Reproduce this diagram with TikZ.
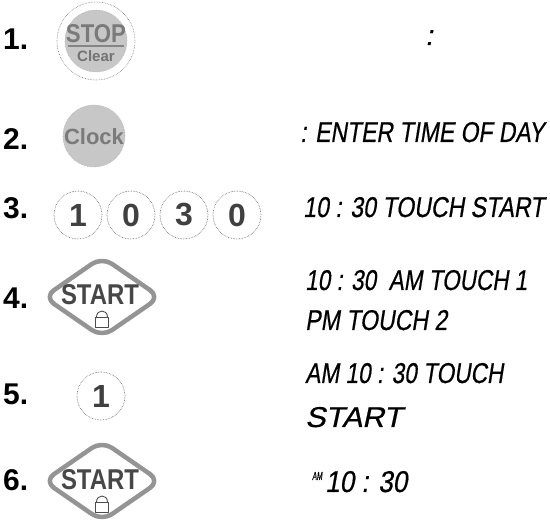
\documentclass[tikz,border=0pt]{standalone}
\usepackage{fontspec}
\setmainfont{Liberation Sans}
\newfontfamily\lcdfont[FakeSlant=0.2,FakeBold=0.6]{Liberation Sans}
\tikzset{
  steplabel/.style={anchor=west, inner sep=0pt, font=\fontsize{30}{32}\selectfont\bfseries},
  lcd/.style={anchor=base west, inner sep=0pt, font=\lcdfont\fontsize{28}{30}\selectfont},
  digitkey/.style={circle, inner sep=0pt, minimum size=48pt, draw=black!65, densely dotted, line width=0.6pt,
     text=black!75, font=\fontsize{32}{34}\selectfont\bfseries},
  outerring/.style={circle, inner sep=0pt, minimum size=78pt, draw=black!55, densely dotted, line width=0.6pt},
  graydisk/.style={circle, inner sep=0pt, minimum size=62pt, fill=black!22, draw=black!30, densely dotted, line width=0.6pt},
  startkey/.style={draw=black!42, line width=4.5pt, rounded corners=12pt, line join=round},
  starttext/.style={inner sep=0pt, text=black!72, font=\fontsize{24}{26}\selectfont\bfseries},
  lockline/.style={draw=black!70, line width=0.9pt, line join=round}
}
\newcommand\lcdbox[3]{\resizebox{#1pt}{#2pt}{#3}}
\begin{document}
\begin{tikzpicture}[x=1pt,y=-1pt]
\useasboundingbox (0,0) rectangle (550,524);

% step labels
\node[steplabel] (s1) at (3,39) {1.};
\node[steplabel] (s2) at (3,139) {2.};
\node[steplabel] (s3) at (3,208) {3.};
\node[steplabel] (s4) at (3,298) {4.};
\node[steplabel] (s5) at (3,394) {5.};
\node[steplabel] (s6) at (3,480) {6.};

% 1. STOP / Clear
\node[outerring] (stopring) at (96,41) {};
\node[graydisk] (stopdisk) at (96,41) {};
\node[inner sep=0pt, text=black!52] (stoptxt) at (96,34) {\resizebox{60pt}{18pt}{\bfseries STOP}};
\draw[black!48, line width=1.2pt] (68,46) -- (124,46);
\node[inner sep=0pt, text=black!55, font=\fontsize{15}{16}\selectfont\bfseries] (cleartxt) at (96,56) {Clear};

% 2. Clock
\node[graydisk] (clockdisk) at (94,136) {};
\node[inner sep=0pt, text=black!52, font=\fontsize{22}{24}\selectfont\bfseries] (clocktxt) at (94,137) {Clock};

% 3. digits
\node[digitkey] (k1) at (78,215) {1};
\node[digitkey] (k0a) at (131,215) {0};
\node[digitkey] (k3) at (184,215) {3};
\node[digitkey] (k0b) at (237,215) {0};

% 4. START
\coordinate (d4) at (102,297);
\begin{scope}[shift={(d4)}]
  \draw[startkey] (-58,0) -- (0,-40) -- (58,0) -- (0,40) -- cycle;
  \draw[lockline] (-6.5,20) rectangle (6.5,30);
  \draw[lockline] (-5.5,20) .. controls (-5.5,12) and (5.5,12) .. (5.5,20);
\end{scope}
\node[starttext] (t4) at (100,295) {\resizebox{78pt}{20pt}{START}};

% 5. digit 1
\node[digitkey] (k5) at (101,396) {1};

% 6. START
\coordinate (d6) at (102,481);
\begin{scope}[shift={(d6)}]
  \draw[startkey] (-58,0) -- (0,-40) -- (58,0) -- (0,40) -- cycle;
  \draw[lockline] (-6.5,21) rectangle (6.5,31);
  \draw[lockline] (-5.5,21) .. controls (-5.5,13) and (5.5,13) .. (5.5,21);
\end{scope}
\node[starttext] (t6) at (100,480) {\resizebox{78pt}{20pt}{START}};

% display texts
\node[lcd] (m1) at (425,45) {:};
\node[lcd] (m2) at (300,142) {\lcdbox{244}{20}{: ENTER TIME OF DAY}};
\node[lcd] (m3) at (303,217) {\lcdbox{241}{20}{10 : 30 TOUCH START}};
\node[lcd] (m4a) at (305,290) {\lcdbox{222}{20}{10 : 30 \ AM TOUCH 1}};
\node[lcd] (m4b) at (305,330) {\lcdbox{142}{20}{PM TOUCH 2}};
\node[lcd] (m5a) at (305,383) {\lcdbox{198}{20}{AM 10 : 30 TOUCH}};
\node[lcd] (m5b) at (305,427) {\lcdbox{97}{20}{START}};
\node[lcd] (m6am) at (312,480) {\lcdbox{10}{8}{AM}};
\node[lcd] (m6) at (325,492) {\lcdbox{82}{21}{10 : 30}};
\end{tikzpicture}
\end{document}
